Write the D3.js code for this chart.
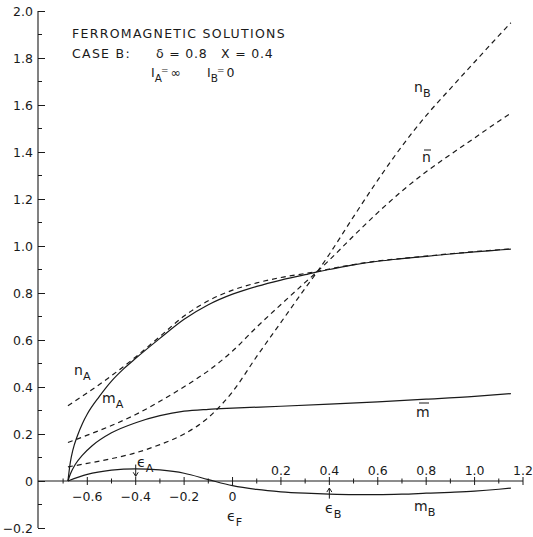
<!DOCTYPE html>
<html><head><meta charset="utf-8">
<script src="https://cdn.jsdelivr.net/npm/d3@7/dist/d3.min.js"></script>
<style>
body{margin:0;background:#fff;}
text{font-family:"DejaVu Sans",sans-serif;fill:#1a1a1a;}
</style></head>
<body><svg id="c" width="533" height="537"></svg>
<script>
// ---- data ----
const xs_nA = [-0.68,-0.6,-0.5,-0.4,-0.3,-0.2,-0.1,0,0.1,0.2,0.3,0.35,0.4,0.5,0.6,0.7,0.8,0.9,1.0,1.1,1.15];
const nA    = [0.32,0.375,0.448,0.528,0.615,0.702,0.767,0.812,0.843,0.866,0.883,0.892,0.902,0.921,0.936,0.947,0.957,0.967,0.976,0.984,0.988];
const xs_mA = [-0.68,-0.67,-0.66,-0.64,-0.62,-0.6,-0.55,-0.5,-0.45,-0.4,-0.3,-0.2,-0.1,0,0.1,0.2,0.3,0.35,0.4,0.5,0.6,0.7,0.8,0.9,1.0,1.1,1.15];
const mA    = [0,0.08,0.13,0.195,0.245,0.285,0.36,0.425,0.477,0.522,0.607,0.688,0.75,0.795,0.828,0.855,0.878,0.89,0.9,0.92,0.935,0.946,0.956,0.966,0.975,0.983,0.987];
const xs_nB = [-0.68,-0.6,-0.5,-0.4,-0.3,-0.2,-0.1,0,0.1,0.2,0.3,0.35,0.4,0.5,0.6,0.7,0.8,0.9,1.0,1.1,1.15];
const nB    = [0.06,0.075,0.095,0.12,0.155,0.2,0.27,0.38,0.53,0.675,0.82,0.89,0.965,1.125,1.28,1.425,1.555,1.67,1.783,1.895,1.95];
const xs_nbar = [-0.68,-0.6,-0.5,-0.4,-0.3,-0.2,-0.1,0,0.1,0.2,0.3,0.35,0.4,0.5,0.6,0.7,0.8,0.9,1.0,1.1,1.15];
const nbar    = [0.164,0.195,0.236,0.283,0.339,0.401,0.469,0.553,0.655,0.751,0.845,0.891,0.94,1.043,1.142,1.234,1.316,1.389,1.46,1.531,1.565];
const xs_mbar = [-0.68,-0.67,-0.65,-0.62,-0.58,-0.5,-0.4,-0.3,-0.2,-0.1,0,0.2,0.4,0.6,0.8,1.0,1.15];
const mbar    = [0,0.03,0.07,0.11,0.15,0.205,0.248,0.278,0.297,0.305,0.31,0.318,0.327,0.337,0.348,0.36,0.372];
const xs_mB = [-0.68,-0.6,-0.5,-0.4,-0.3,-0.2,-0.1,0,0.1,0.2,0.3,0.4,0.5,0.6,0.7,0.8,0.9,1.0,1.1,1.15];
const mB    = [0,0.028,0.046,0.052,0.047,0.033,0.006,-0.02,-0.036,-0.046,-0.052,-0.056,-0.058,-0.058,-0.056,-0.052,-0.048,-0.043,-0.035,-0.03];
const yTicks = [-0.2,0,0.2,0.4,0.6,0.8,1.0,1.2,1.4,1.6,1.8,2.0];
const yMinor = [-0.1,0.1,0.3,0.5,0.7,0.9,1.1,1.3,1.5,1.7,1.9];
const xTicksBelow = [-0.6,-0.4,-0.2,0];
const xTicksAbove = [0.2,0.4,0.6,0.8,1.0,1.2];
const xMinor = [-0.7,-0.5,-0.3,-0.1,0.1,0.3,0.5,0.7,0.9,1.1];

// ---- scales ----
const svg = d3.select("#c");
const x = d3.scaleLinear().domain([-0.6,1.2]).range([87.3,523]);
const y = d3.scaleLinear().domain([-0.2,2.0]).range([528,11]);
const axX = 38;
const ink = "#1a1a1a";

// y axis
const yAxis = d3.axisLeft(y).tickValues(yTicks).tickSize(-7).tickPadding(5)
  .tickFormat(d => d===0 ? "0" : d3.format(".1f")(d));
const gy = svg.append("g").attr("transform",`translate(${axX},0)`).call(yAxis);
gy.select(".domain").remove();
gy.selectAll("line").attr("stroke",ink).attr("stroke-width",1);
gy.selectAll("text").attr("font-size",12.5).style("font-family","'DejaVu Sans',sans-serif").attr("fill",ink);
svg.append("line").attr("x1",axX).attr("x2",axX).attr("y1",y(2.0)).attr("y2",y(-0.2)).attr("stroke",ink).attr("stroke-width",1.1);
svg.append("g").selectAll("line").data(yMinor).join("line")
  .attr("x1",axX).attr("x2",axX+4).attr("y1",d=>y(d)).attr("y2",d=>y(d)).attr("stroke",ink);

// x axis (at y=0)
const y0 = y(0);
svg.append("line").attr("x1",axX).attr("x2",x(1.2)).attr("y1",y0).attr("y2",y0).attr("stroke",ink).attr("stroke-width",1);
svg.append("g").selectAll("line").data(xTicksBelow.concat(xTicksAbove)).join("line")
  .attr("x1",d=>x(d)).attr("x2",d=>x(d)).attr("y1",y0-4).attr("y2",y0+4).attr("stroke",ink);
svg.append("g").selectAll("line").data(xMinor).join("line")
  .attr("x1",d=>x(d)).attr("x2",d=>x(d)).attr("y1",y0-2.5).attr("y2",y0+2.5).attr("stroke",ink);
svg.append("g").selectAll("text").data(xTicksBelow).join("text")
  .attr("x",d=>x(d)).attr("y",y0+20).attr("text-anchor","middle").attr("font-size",12.5)
  .text(d => d===0 ? "0" : d3.format(".1f")(d));
svg.append("g").selectAll("text").data(xTicksAbove).join("text")
  .attr("x",d=>x(d)).attr("y",y0-6).attr("text-anchor","middle").attr("font-size",12.5)
  .text(d => d3.format(".1f")(d));

// curves
const line = d3.line().x(d=>x(d[0])).y(d=>y(d[1])).curve(d3.curveMonotoneX);
function draw(xs, ys, dashed){
  svg.append("path").datum(xs.map((v,i)=>[v,ys[i]])).attr("d",line)
    .attr("fill","none").attr("stroke",ink).attr("stroke-width",1.2)
    .attr("stroke-dasharray", dashed ? "5,4" : null);
}
draw(xs_mA, mA, false);
draw(xs_mbar, mbar, false);
draw(xs_mB, mB, false);
draw(xs_nA, nA, true);
draw(xs_nbar, nbar, true);
draw(xs_nB, nB, true);

// title block
const t = svg.append("g").attr("font-size",12.5).attr("letter-spacing",1.3);
t.append("text").attr("x",72).attr("y",38).text("FERROMAGNETIC SOLUTIONS");
t.append("text").attr("x",72).attr("y",58).text("CASE B:");
t.append("text").attr("x",156).attr("y",58).attr("letter-spacing",0.8).text("δ = 0.8");
t.append("text").attr("x",221).attr("y",58).attr("letter-spacing",0.8).text("X = 0.4");
function sub(g, xp, yp, main, s){
  const tx = g.append("text").attr("x",xp).attr("y",yp);
  tx.append("tspan").text(main);
  tx.append("tspan").attr("dy",5).attr("font-size","0.8em").text(s);
  return tx;
}
function eqline(xp, s, val){
  const tx = svg.append("text").attr("x",xp).attr("y",77).attr("font-size",12.5);
  tx.append("tspan").text("I");
  tx.append("tspan").attr("dy",5).attr("font-size",10.5).text(s);
  tx.append("tspan").attr("dx",-1).attr("dy",-9).attr("font-size",9).text("=");
  tx.append("tspan").attr("dx",2).attr("dy",4).text(val);
}
eqline(151, "A", "∞");
eqline(207, "B", "0");

// curve labels
const lab = svg.append("g").attr("font-size",14);
sub(lab,74,375,"n","A");
sub(lab,102,403,"m","A");
sub(lab,414,92,"n","B");
sub(lab,414,511,"m","B");
lab.append("text").attr("x",422).attr("y",162).text("n");
svg.append("line").attr("x1",424).attr("x2",431).attr("y1",150).attr("y2",150).attr("stroke",ink);
lab.append("text").attr("x",416).attr("y",417).text("m");
svg.append("line").attr("x1",419).attr("x2",429).attr("y1",403).attr("y2",403).attr("stroke",ink);
const eps = svg.append("g").attr("font-size",14);
sub(eps,137,467,"ϵ","A");
sub(eps,227,521,"ϵ","F");
sub(eps,325,513,"ϵ","B");

// arrows
function arrow(xv, ya, yb){
  svg.append("line").attr("x1",x(xv)).attr("x2",x(xv)).attr("y1",ya).attr("y2",yb).attr("stroke",ink);
  const d = yb>ya ? -1 : 1;
  svg.append("path").attr("d",`M${x(xv)-2.5},${yb+d*4}L${x(xv)},${yb}L${x(xv)+2.5},${yb+d*4}`)
    .attr("fill","none").attr("stroke",ink);
}
arrow(-0.4, y(0.07), y(0.02));
arrow(0.4, y(-0.075), y(-0.03));
</script></body></html>
